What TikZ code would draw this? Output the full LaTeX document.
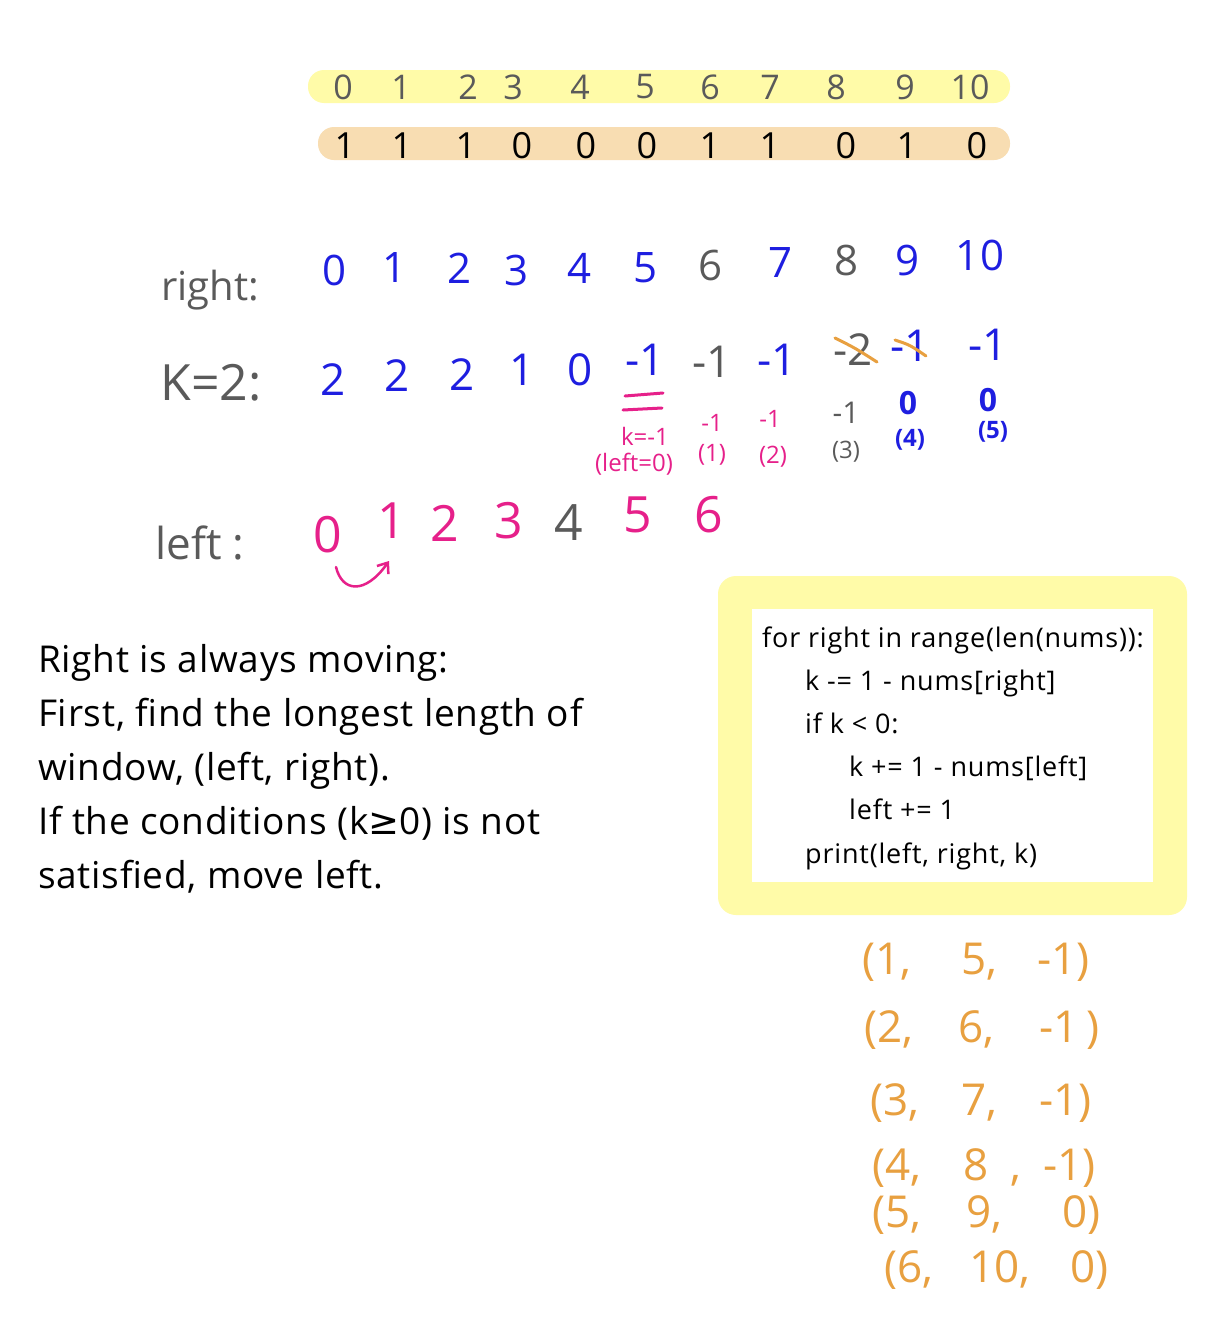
\documentclass[tikz,border=0pt]{standalone}
\usepackage{fontspec}
\setmainfont{Open Sans}
\newfontfamily\dvfont{DejaVu Sans}
\usetikzlibrary{arrows.meta}
\definecolor{hblue}{HTML}{1E1EE0}
\definecolor{hgray}{HTML}{5A5A5A}
\definecolor{hpink}{HTML}{E6208A}
\definecolor{horange}{HTML}{E8A040}
\definecolor{hyellow}{HTML}{FFFBA8}
\definecolor{hpeach}{HTML}{F8DDB2}
\tikzset{
  fs/.style={font=\fontsize{#1}{#1}\selectfont},
  idx/.style={fs=34, text=hgray, inner sep=0pt},
  val/.style={fs=36, text=black, inner sep=0pt},
  rv/.style={fs=42, inner sep=0pt},
  kv/.style={fs=44, inner sep=0pt},
  sm/.style={fs=24, inner sep=0pt},
  lv/.style={fs=50, inner sep=0pt},
  tup/.style={fs=44, text=horange, inner sep=0pt, anchor=west},
  para/.style={font=\fontsize{37}{37}\selectfont\addfontfeatures{LetterSpace=2}, text=black, inner sep=0pt, anchor=base west},
  code/.style={font=\fontsize{27}{27}\selectfont\addfontfeatures{LetterSpace=3}, text=black, inner sep=0pt, anchor=base west},
  lbl/.style={text=hgray, inner sep=0pt},
  strike/.style={draw=horange, line width=3pt, line cap=round},
}
\begin{document}
\begin{tikzpicture}[x=1pt,y=-1pt]
\useasboundingbox (0,0) rectangle (1226,1328);
\fill[white] (0,0) rectangle (1226,1328);
% bars
\fill[hyellow, rounded corners=16pt] (308,70) rectangle (1010,103);
\fill[hpeach, rounded corners=16pt] (318,127) rectangle (1010,160);
% indices
\foreach \i/\x in {0/343,1/401,2/468,3/513,4/580,5/645,6/710,7/770,8/836,9/905,10/970}
  \node[idx] (i\i) at (\x,87) {\i};
% values
\foreach \i/\x/\v in {0/345/1,1/402/1,2/466/1,3/522/0,4/586/0,5/647/0,6/710/1,7/770/1,8/846/0,9/907/1,10/977/0}
  \node[val] (v\i) at (\x,146) {\v};
% right row
\node[lbl, fs=40] (rlab) at (210,290) {right:};
\foreach \i/\x/\y/\c in {0/335/270/hblue,1/395/268/hblue,2/460/268/hblue,3/517/270/hblue,4/580/268/hblue,5/645/268/hblue,6/710/265/hgray,7/780/263/hblue,8/846/260/hgray,9/907/260/hblue,10/980/255/hblue}
  \node[rv, text=\c] (r\i) at (\x,\y) {\i};
% k row
\node[lbl, fs=50] (klab) at (211,383) {K=2:};
\foreach \i/\x/\y/\c/\v in {0/333/380/hblue/2,1/397/376/hblue/2,2/462/375/hblue/2,3/522/370/hblue/1,4/580/370/hblue/0,5/645/360/hblue/-1,6/712/362/hgray/-1,7/777/360/hblue/-1,8/853/350/hgray/-2,9/910/346/hblue/-1,10/988/345/hblue/-1}
  \node[kv, text=\c] (k\i) at (\x,\y) {\v};
\draw[strike] (835,338) .. controls (855,348) .. (877,362);
\draw[strike] (895,340) .. controls (910,345) .. (926,356);
% pink underline
\draw[hpink, line width=3pt, line cap=round] (625,396) -- (663,393);
\draw[hpink, line width=3pt, line cap=round] (623,410) -- (662,408);
% sub values
\node[sm, text=hpink] (s5a) at (645,436) {k=-1};
\node[sm, text=hpink] (s5b) at (634,464) {(left=0)};
\node[sm, text=hpink] (s6a) at (712,423) {-1};
\node[sm, text=hpink] (s6b) at (712,455) {(1)};
\node[sm, text=hpink] (s7a) at (770,419) {-1};
\node[sm, text=hpink] (s7b) at (773,457) {(2)};
\node[sm, fs=30, text=hgray] (s8a) at (846,413) {-1};
\node[sm, text=hgray] (s8b) at (846,452) {(3)};
\node[sm, text=hblue, font=\fontsize{32}{32}\selectfont\bfseries] (s9a) at (908,403) {0};
\node[sm, text=hblue, font=\fontsize{24}{24}\selectfont\bfseries] (s9b) at (910,440) {(4)};
\node[sm, text=hblue, font=\fontsize{32}{32}\selectfont\bfseries] (s10a) at (988,400) {0};
\node[sm, text=hblue, font=\fontsize{24}{24}\selectfont\bfseries] (s10b) at (993,432) {(5)};
% left row
\node[lbl, fs=44] (llab) at (200,543) {left :};
\foreach \i/\x/\y/\c in {0/328/535/hpink,1/392/521/hpink,2/445/523/hpink,3/509/521/hpink,4/569/523/hgray,5/638/515/hpink,6/709/515/hpink}
  \node[lv, text=\c] (l\i) at (\x,\y) {\i};
\coordinate (ast) at (336,567);
\coordinate (aen) at (389,561);
\draw[hpink, line width=2.5pt, line cap=round, -{Straight Barb[length=9pt,width=14pt]}] (ast) .. controls (342,592) and (365,595) .. (aen);
% paragraph
\node[para] (p1) at (38,672) {Right is always moving:};
\node[para] (p2) at (38,726) {First, find the longest length of};
\node[para] (p3) at (38,780) {window, (left, right).};
\node[para] (p4) at (38,834) {If the conditions (k{\dvfont ≥}0) is not};
\node[para] (p5) at (38,888) {satisfied, move left.};
% code box
\fill[hyellow, rounded corners=18pt] (718,576) rectangle (1187,915);
\fill[white] (752,609) rectangle (1153,882);
\node[code] (c1) at (762,647) {for right in range(len(nums)):};
\node[code] (c2) at (805,690) {k -= 1 - nums[right]};
\node[code] (c3) at (805,733) {if k < 0:};
\node[code] (c4) at (849,776) {k += 1 - nums[left]};
\node[code] (c5) at (849,819) {left += 1};
\node[code] (c6) at (805,863) {print(left, right, k)};
% tuples
\node[tup] (t1) at (862,962) {(1,\hspace{50pt}5,\hspace{40pt}-1)};
\node[tup] (t2) at (864,1030) {(2,\hspace{45pt}6,\hspace{45pt}-1\hspace{8pt})};
\node[tup] (t3) at (870,1103) {(3,\hspace{42pt}7,\hspace{42pt}-1)};
\node[tup] (t4) at (872,1168) {(4,\hspace{42pt}8\hspace{22pt},\hspace{22pt}-1)};
\node[tup] (t5) at (872,1215) {(5,\hspace{45pt}9,\hspace{60pt}0)};
\node[tup] (t6) at (884,1270) {(6,\hspace{36pt}10,\hspace{40pt}0)};
\end{tikzpicture}
\end{document}
